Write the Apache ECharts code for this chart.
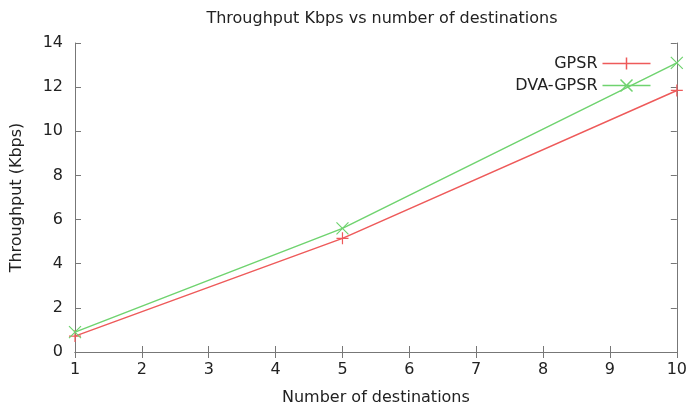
<!DOCTYPE html>
<html>
<head>
<meta charset="utf-8">
<script src="https://cdn.jsdelivr.net/npm/echarts@6/dist/echarts.min.js"></script>
<style>
  html, body { margin: 0; padding: 0; background: #fff; }
  #main { width: 690px; height: 411px; }
</style>
</head>
<body>
<div id="main"></div>
<script>
// data
var destinations = [1, 5, 10];
var gpsr = [0.72, 5.15, 11.85];
var dvaGpsr = [0.9, 5.6, 13.1];
var seriesNames = ['GPSR', 'DVA-GPSR'];

var red = '#ee5a5a';
var green = '#6fd36f';
var axisGray = '#777';
var textColor = '#222';
var font = 'DejaVu Sans';

function pairs(xs, ys) {
  return xs.map(function (x, i) { return [x, ys[i]]; });
}

var plusPath = 'path://M0,5L10,5M5,0L5,10';
var crossPath = 'path://M0,0L10,10M0,10L10,0';

var chart = echarts.init(document.getElementById('main'));

var xBase = {
  type: 'value',
  min: 1,
  max: 10,
  interval: 1,
  splitLine: { show: false },
  axisLine: { lineStyle: { color: axisGray, width: 1 } },
  axisTick: { inside: true, length: 6, lineStyle: { color: axisGray } }
};
var yBase = {
  type: 'value',
  min: 0,
  max: 14,
  interval: 2,
  splitLine: { show: false },
  axisLine: { show: true, lineStyle: { color: axisGray, width: 1 } },
  axisTick: { show: true, inside: true, length: 6, lineStyle: { color: axisGray } }
};

var option = {
  backgroundColor: '#fff',
  animation: false,
  textStyle: { fontFamily: font },
  title: {
    text: 'Throughput Kbps vs number of destinations',
    left: 377,
    textAlign: 'center',
    top: 6,
    textStyle: { fontFamily: font, fontSize: 16, fontWeight: 'normal', color: textColor }
  },
  legend: {
    orient: 'vertical',
    right: 32,
    top: 50,
    align: 'right',
    itemWidth: 48,
    itemHeight: 14,
    itemGap: 5,
    textStyle: { fontFamily: font, fontSize: 16, color: textColor },
    data: [
      { name: 'GPSR', icon: 'path://M0,6L48,6M24,0L24,12',
        itemStyle: { color: 'none', borderColor: red, borderWidth: 1.5 } },
      { name: 'DVA-GPSR', icon: 'path://M0,6L48,6M18,0L30,12M18,12L30,0',
        itemStyle: { color: 'none', borderColor: green, borderWidth: 1.5 } }
    ]
  },
  grid: { left: 75, right: 12, top: 43, bottom: 58 },
  xAxis: [
    Object.assign({}, xBase, {
      position: 'bottom',
      name: 'Number of destinations',
      nameLocation: 'middle',
      nameGap: 38,
      nameTextStyle: { fontFamily: font, fontSize: 16, color: textColor },
      axisLabel: { fontFamily: font, fontSize: 16, color: textColor, margin: 10 }
    }),
    Object.assign({}, xBase, {
      position: 'top',
      axisLabel: { show: false }
    })
  ],
  yAxis: [
    Object.assign({}, yBase, {
      position: 'left',
      name: 'Throughput (Kbps)',
      nameLocation: 'middle',
      nameGap: 50,
      nameTextStyle: { fontFamily: font, fontSize: 16, color: textColor },
      axisLabel: { fontFamily: font, fontSize: 16, color: textColor, margin: 12 }
    }),
    Object.assign({}, yBase, {
      position: 'right',
      axisLabel: { show: false }
    })
  ],
  series: [
    {
      name: seriesNames[0],
      type: 'line',
      data: pairs(destinations, gpsr),
      symbol: plusPath,
      symbolSize: 12,
      showAllSymbol: true,
      lineStyle: { color: red, width: 1.5 },
      itemStyle: { color: 'none', borderColor: red, borderWidth: 1.2 }
    },
    {
      name: seriesNames[1],
      type: 'line',
      data: pairs(destinations, dvaGpsr),
      symbol: crossPath,
      symbolSize: 12,
      showAllSymbol: true,
      lineStyle: { color: green, width: 1.5 },
      itemStyle: { color: 'none', borderColor: green, borderWidth: 1.2 }
    }
  ]
};

chart.setOption(option);
</script>
</body>
</html>
